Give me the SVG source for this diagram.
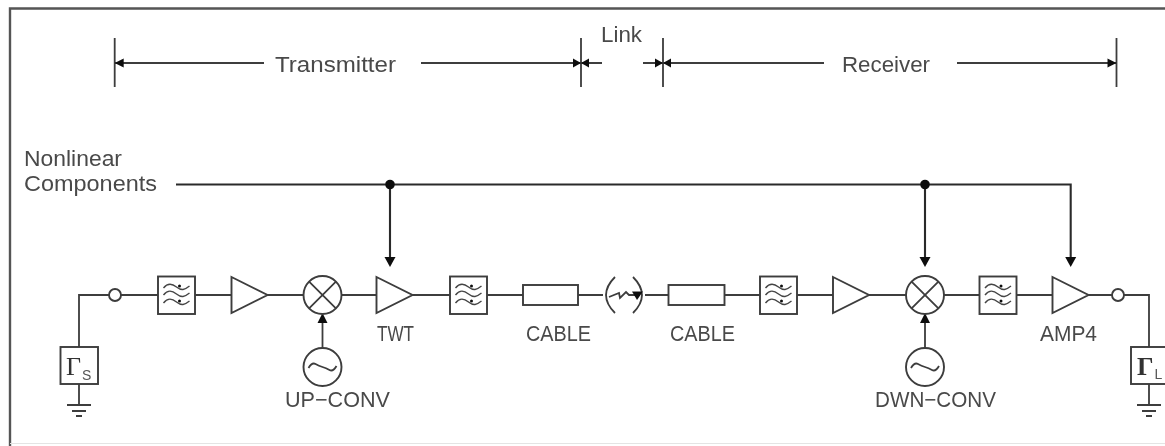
<svg xmlns="http://www.w3.org/2000/svg" width="1165" height="446" viewBox="0 0 1165 446">
<style>
.l{fill:none;stroke:#3c3c3c;stroke-width:1.8}
.f{fill:none;stroke:#444;stroke-width:1.4}
.b{fill:none;stroke:#2c2c2c;stroke-width:2.1}
.w{fill:#fff;stroke:#3c3c3c;stroke-width:1.9}
.t{font-family:"Liberation Sans",Arial,sans-serif;font-size:21.500px;fill:#4a4a4a}
.g{font-family:"Liberation Serif","Times New Roman",serif;font-size:26px;fill:#333}
.s{font-family:"Liberation Sans",Arial,sans-serif;font-size:14px;fill:#555}
.a{fill:#111;stroke:none}
</style>
<defs>
<filter id="soft" x="-2%" y="-2%" width="104%" height="104%"><feGaussianBlur stdDeviation="0.7"/></filter>
<g id="filt"><rect class="w" x="-18.500" y="-18.500" width="37" height="37.500"/>
<path class="f" d="M-13-7c4-5 8-5 13-1s8 3 13-1M-13 0c4-5 8-5 13-1s8 3 13-1M-13 8c4-5 8-5 13-1s8 3 13-1"/>
<circle class="a" cx="3" cy="-9" r="1.500"/><circle class="a" cx="3" cy="6" r="1.500"/></g>
<path id="amp" class="w" d="M0-18L36 0L0 18Z"/>
<g id="mix"><circle class="w" r="19"/><path class="l" d="M-13.400-13.400L13.400 13.400M-13.400 13.400L13.400-13.400"/></g>
<g id="osc"><circle class="w" r="19"/><path class="l" d="M-14 1q3.500-6 7-4t7 3t7 3t7-4"/></g>
<path id="gnd" class="l" d="M0 0V21M-12 21H12M-7 27H7M-3 32H3"/>
</defs>
<rect width="1165" height="446" fill="#fff"/>
<g filter="url(#soft)">
<g id="frame"><path d="M10 446V8.500H1165" fill="none" stroke="#555" stroke-width="2.400"/><path d="M10 443.500H1165" fill="none" stroke="#e4e4e4" stroke-width="1"/></g>
<g id="connectors">
<path class="l" d="M115 295H79V347M121 295H158M195 295H231M267 295H303.500M341.500 295H376M413 295H450M487 295H523M578 295H603M645 295H668M724 295H760M797 295H833M869 295H906M944 295H979M1017 295H1052M1089 295H1112M1124 295H1149V347"/>
<path class="l" d="M322.500 348V322M925 348V322"/>
<path class="a" d="M322.500 313l-5 10h10zM925 313l-5 10h10z"/>
<path class="b" d="M176 184.500H1070.700V258M390 184.500V258M925 184.500V258"/>
<path class="a" d="M390 267l-5.500-10h11zM925 267l-5.500-10h11zM1070.700 267l-5.500-10h11z"/>
<circle class="a" cx="390" cy="184.500" r="4.800"/><circle class="a" cx="925" cy="184.500" r="4.800"/>
</g>
<g id="dimensions">
<path class="l" d="M114.700 38V87M581 38V87M663 38V87M1116.500 38V87M114.700 63H264M421 63H602M643 63H824M957 63H1116.500"/>
<path class="a" d="M114.700 63l9-4.500v9zM581 63l-8-4.500v9zM581 63l8-4.500v9zM663 63l-8-4.500v9zM663 63l8-4.500v9zM1116.500 63l-9-4.500v9z"/>
<text class="t" x="275" y="72" textLength="121" lengthAdjust="spacingAndGlyphs">Transmitter</text>
<text class="t" x="601" y="42" textLength="41" lengthAdjust="spacingAndGlyphs">Link</text>
<text class="t" x="842" y="72" textLength="88" lengthAdjust="spacingAndGlyphs">Receiver</text>
</g>
<g id="label-nonlinear">
<text class="t" x="24" y="166" textLength="98" lengthAdjust="spacingAndGlyphs">Nonlinear</text>
<text class="t" x="24" y="191" textLength="133" lengthAdjust="spacingAndGlyphs">Components</text>
</g>
<g id="port-in"><circle class="w" cx="115" cy="295" r="6"/></g>
<g id="gamma-s"><rect class="w" x="60.500" y="347" width="37.500" height="37"/><use href="#gnd" x="79" y="384"/><text class="g" x="66" y="375">Γ</text><text class="s" x="82" y="380">S</text></g>
<g id="filter-1"><use href="#filt" x="176.500" y="295"/></g>
<g id="amp-1"><use href="#amp" x="231.500" y="295"/></g>
<g id="mixer-up"><use href="#mix" x="322.500" y="295"/></g>
<g id="osc-up"><use href="#osc" x="322.500" y="367"/><text class="t" x="285" y="407" textLength="105" lengthAdjust="spacingAndGlyphs">UP−CONV</text></g>
<g id="twt"><use href="#amp" x="376.500" y="295"/><text class="t" x="377" y="341" textLength="37" lengthAdjust="spacingAndGlyphs">TWT</text></g>
<g id="filter-2"><use href="#filt" x="468.500" y="295"/></g>
<g id="cable-1"><rect class="w" x="523" y="285" width="55" height="20"/><text class="t" x="526" y="341" textLength="65" lengthAdjust="spacingAndGlyphs">CABLE</text></g>
<g id="link"><path class="l" d="M615 277Q597 295 615 313M633 277Q651 295 633 313M609 297L619 293L620 298L626 292L629 295H640"/><path class="a" d="M632 291.500H643L637 300Z"/></g>
<g id="cable-2"><rect class="w" x="668.500" y="285" width="56" height="20"/><text class="t" x="670" y="341" textLength="65" lengthAdjust="spacingAndGlyphs">CABLE</text></g>
<g id="filter-3"><use href="#filt" x="778.500" y="295"/></g>
<g id="amp-2"><use href="#amp" x="833" y="295"/></g>
<g id="mixer-down"><use href="#mix" x="925" y="295"/></g>
<g id="osc-down"><use href="#osc" x="925" y="367"/><text class="t" x="875" y="407" textLength="121" lengthAdjust="spacingAndGlyphs">DWN−CONV</text></g>
<g id="filter-4"><use href="#filt" x="998" y="295"/></g>
<g id="amp4"><use href="#amp" x="1052.500" y="295"/><text class="t" x="1040" y="341" textLength="57" lengthAdjust="spacingAndGlyphs">AMP4</text></g>
<g id="port-out"><circle class="w" cx="1118" cy="295" r="6"/></g>
<g id="gamma-l"><rect class="w" x="1131" y="347" width="38" height="37"/><use href="#gnd" x="1149" y="384"/><text class="g" x="1137" y="375" font-weight="bold">Γ</text><text class="s" x="1154.500" y="379">L</text></g>
</g>
</svg>
